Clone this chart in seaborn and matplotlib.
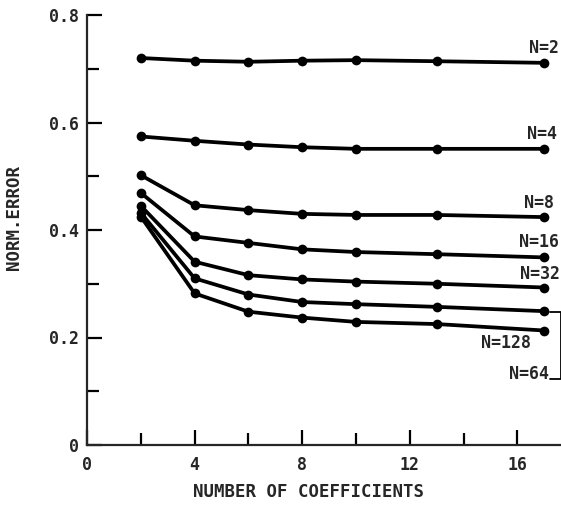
import matplotlib
matplotlib.use("Agg")
import matplotlib.pyplot as plt
from matplotlib.ticker import FixedLocator, FixedFormatter
import numpy as np
import pandas as pd
import seaborn as sns

# Number of coefficients at which the error was evaluated
coefs = [2, 4, 6, 8, 10, 13, 17]

# Normalised error for each block size N
err_n2 = [0.720, 0.715, 0.713, 0.715, 0.716, 0.714, 0.711]
err_n4 = [0.574, 0.566, 0.559, 0.554, 0.551, 0.551, 0.551]
err_n8 = [0.502, 0.446, 0.437, 0.430, 0.428, 0.428, 0.424]
err_n16 = [0.469, 0.388, 0.376, 0.364, 0.359, 0.355, 0.349]
err_n32 = [0.445, 0.341, 0.316, 0.308, 0.304, 0.300, 0.293]
err_n64 = [0.432, 0.310, 0.280, 0.266, 0.262, 0.257, 0.249]
err_n128 = [0.425, 0.282, 0.248, 0.237, 0.229, 0.225, 0.213]

series = {
    "N=2": err_n2,
    "N=4": err_n4,
    "N=8": err_n8,
    "N=16": err_n16,
    "N=32": err_n32,
    "N=64": err_n64,
    "N=128": err_n128,
}

x_ticks_major = [4, 8, 12, 16]
x_ticks_minor = [2, 6, 10, 14]
x_tick_labels = ["4", "8", "12", "16"]
y_ticks_major = [0.2, 0.4, 0.6, 0.8]
y_ticks_minor = [0.1, 0.3, 0.5, 0.7]
y_tick_labels = ["0.2", "0.4", "0.6", "0.8"]

rows = []
for name, vals in series.items():
    for c, v in zip(coefs, vals):
        rows.append({"N": name, "coef": c, "err": v})
df = pd.DataFrame(rows)

sns.set_style("ticks")
plt.rcParams["font.family"] = ["DejaVu Sans Mono", "DejaVu Sans"]
plt.rcParams["font.weight"] = "bold"

fig = plt.figure(figsize=(5.61, 5.05), dpi=100)
ax = fig.add_axes([87 / 561, 1 - 445 / 505, 473 / 561, 430 / 505])

sns.lineplot(
    data=df, x="coef", y="err", units="N", estimator=None,
    color="black", linewidth=2.7, marker="o", markersize=7,
    markeredgewidth=0, ax=ax, legend=False,
)

ax.set_xlim(0, 17.58)
ax.set_ylim(0, 0.8)
sns.despine(ax=ax)
for sp in ("left", "bottom"):
    ax.spines[sp].set_linewidth(1.6)

ax.xaxis.set_major_locator(FixedLocator([0] + x_ticks_major))
ax.xaxis.set_major_formatter(FixedFormatter(["0"] + x_tick_labels))
ax.xaxis.set_minor_locator(FixedLocator(x_ticks_minor))
ax.yaxis.set_major_locator(FixedLocator([0] + y_ticks_major))
ax.yaxis.set_major_formatter(FixedFormatter(["0"] + y_tick_labels))
ax.yaxis.set_minor_locator(FixedLocator(y_ticks_minor))

ax.tick_params(axis="both", which="major", direction="in", length=11,
               width=1.6, labelsize=12, color="black")
ax.tick_params(axis="both", which="minor", direction="in", length=8.5,
               width=1.6, color="black")
ax.tick_params(axis="x", which="major", pad=8)
ax.tick_params(axis="y", which="major", pad=6)

ax.set_xlabel("NUMBER OF COEFFICIENTS", fontsize=12.5, fontweight="bold")
ax.set_ylabel("NORM.ERROR", fontsize=12.5, fontweight="bold")
ax.xaxis.set_label_coords(0.469, -0.109)
ax.xaxis.label.set_va("center")
ax.yaxis.set_label_coords(-0.154, 0.528)
ax.yaxis.label.set_va("center")

# Curve labels at the right end of each line
labels = [
    ("N=2", 17.56, 0.738),
    ("N=4", 17.46, 0.579),
    ("N=8", 17.36, 0.451),
    ("N=16", 17.55, 0.378),
    ("N=32", 17.58, 0.318),
    ("N=128", 16.49, 0.189),
    ("N=64", 17.17, 0.1315),
]
for text, lx, ly in labels:
    ax.text(lx, ly, text, ha="right", va="center", fontsize=12,
            fontweight="bold", clip_on=False)

# Bracket tying the N=64 label to its curve
ax.plot([17.21, 17.61, 17.61, 17.22], [0.248, 0.248, 0.122, 0.122],
        color="black", linewidth=1.3, clip_on=False)

fig.savefig("out.png", dpi=100, facecolor="white")
